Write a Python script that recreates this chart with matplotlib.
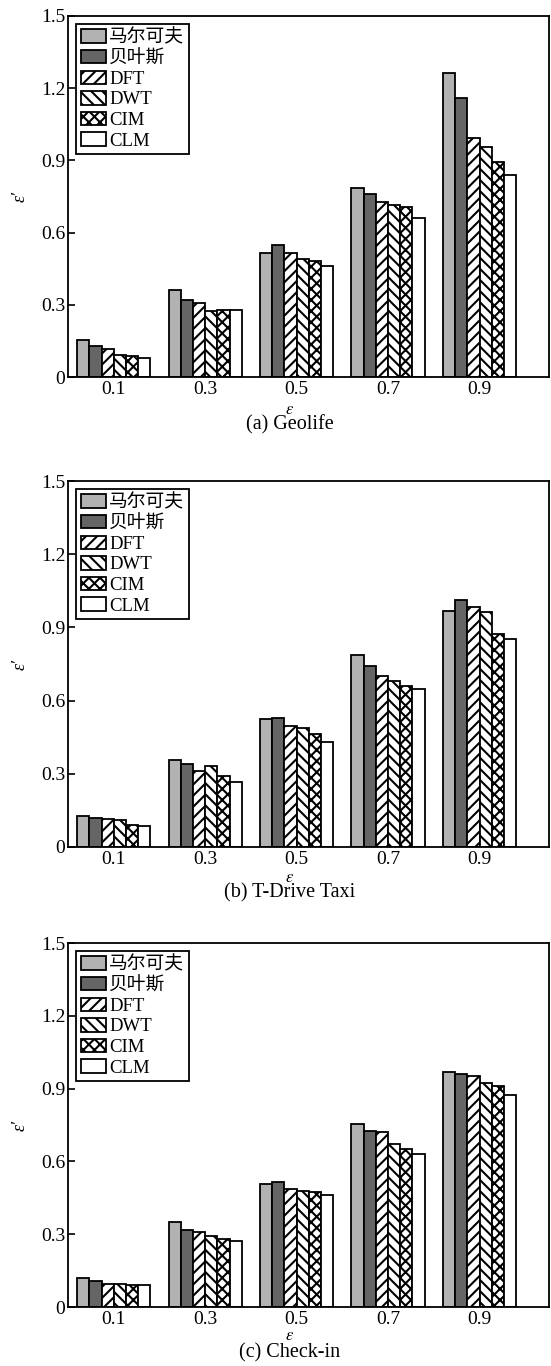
import numpy as np
import matplotlib
matplotlib.use('Agg')
import matplotlib.pyplot as plt

plt.rcParams['font.family'] = ['Liberation Serif', 'Noto Sans CJK SC']
plt.rcParams['mathtext.fontset'] = 'stix'
plt.rcParams['hatch.color'] = 'black'
plt.rcParams['hatch.linewidth'] = 1.5

eps_labels = ['0.1', '0.3', '0.5', '0.7', '0.9']
methods = ['马尔可夫', '贝叶斯', 'DFT', 'DWT', 'CIM', 'CLM']

# epsilon' per method, one list per dataset
geolife = [
    [0.155, 0.360, 0.517, 0.787, 1.262],
    [0.128, 0.319, 0.548, 0.761, 1.160],
    [0.118, 0.308, 0.517, 0.729, 0.994],
    [0.093, 0.275, 0.491, 0.715, 0.957],
    [0.086, 0.280, 0.480, 0.707, 0.893],
    [0.080, 0.277, 0.460, 0.661, 0.841],
]
tdrive = [
    [0.126, 0.355, 0.523, 0.786, 0.966],
    [0.120, 0.340, 0.527, 0.743, 1.012],
    [0.116, 0.311, 0.495, 0.701, 0.984],
    [0.111, 0.331, 0.488, 0.682, 0.963],
    [0.089, 0.292, 0.462, 0.658, 0.873],
    [0.085, 0.268, 0.430, 0.648, 0.854],
]
checkin = [
    [0.119, 0.352, 0.507, 0.753, 0.967],
    [0.108, 0.318, 0.517, 0.727, 0.960],
    [0.093, 0.310, 0.485, 0.720, 0.952],
    [0.095, 0.291, 0.476, 0.672, 0.924],
    [0.092, 0.280, 0.474, 0.653, 0.912],
    [0.089, 0.273, 0.461, 0.629, 0.873],
]
captions = ['(a) Geolife', '(b) T-Drive Taxi', '(c) Check-in']
yticks = [0, 0.3, 0.6, 0.9, 1.2, 1.5]
ytick_labels = ['0', '0.3', '0.6', '0.9', '1.2', '1.5']

colors = ['#b2b2b2', '#656565', 'white', 'white', 'white', 'white']
hatches = [None, None, '///', '\\\\\\', 'xxx', None]

W, H = 551, 1366
fig = plt.figure(figsize=(W / 100, H / 100), dpi=100)

# (top, bottom) of each axes box in pixels
boxes = [(16, 377), (481, 847), (943, 1307)]
left_px, right_px = 68, 549
label_rows = [(410, 425), (878, 893), (1336, 1353)]

x = np.arange(len(eps_labels))
bw = 0.8 / len(methods)

for data, cap, (top, bot), (ly, cy) in zip([geolife, tdrive, checkin], captions, boxes, label_rows):
    ax = fig.add_axes([left_px / W, 1 - bot / H, (right_px - left_px) / W, (bot - top) / H])
    for i, name in enumerate(methods):
        ax.bar(x + (i - 2.5) * bw, data[i], bw, color=colors[i], edgecolor='black',
               linewidth=1.3, hatch=hatches[i], label=name)
    ax.set_xlim(-0.5, 4.76)
    ax.set_ylim(0, 1.5)
    ax.set_xticks(x)
    ax.set_xticklabels(eps_labels)
    ax.set_yticks(yticks)
    ax.set_yticklabels(ytick_labels)
    ax.tick_params(axis='x', length=0, pad=3, labelsize=14)
    ax.tick_params(axis='y', direction='in', length=5, width=1.2, pad=2, labelsize=14)
    for s in ax.spines.values():
        s.set_linewidth(1.3)
    leg = ax.legend(loc='upper left', fontsize=13.5, frameon=True, fancybox=False,
                    framealpha=1, edgecolor='black', borderaxespad=0.45, borderpad=0.25,
                    labelspacing=0.18, handlelength=1.3, handleheight=0.72, handletextpad=0.2)
    leg.get_frame().set_linewidth(1.3)

    yc = 1 - (top + bot) / 2 / H
    fig.text(20 / W, yc, 'ε′', rotation=90, ha='center', va='center', fontsize=13,
             fontstyle='italic')
    fig.text(290 / W, 1 - ly / H, '$\\varepsilon$', ha='center', va='center', fontsize=12)
    fig.text(290 / W, 1 - cy / H, cap, ha='center', va='center', fontsize=14.5)

fig.savefig('out.png', dpi=100)
